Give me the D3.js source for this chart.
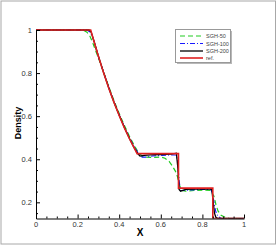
<!DOCTYPE html>
<html><head><meta charset="utf-8">
<script src="https://cdn.jsdelivr.net/npm/d3@7"></script>
<style>body{margin:0;background:#fff}svg{display:block}</style>
</head><body>
<script>
// ---- data ----
const refX  = [0,0.263,0.28,0.3,0.325,0.35,0.375,0.4,0.425,0.45,0.47,0.486,0.685,0.685,0.85,0.85,1];
const refY  = [1,1,0.943,0.878,0.801,0.730,0.664,0.603,0.546,0.494,0.456,0.426,0.426,0.266,0.266,0.125,0.125];
const s200X = [0,0.255,0.265,0.28,0.3,0.325,0.35,0.375,0.4,0.425,0.45,0.47,0.49,0.5,0.52,0.55,0.6,0.65,0.675,0.682,0.688,0.695,0.72,0.8,0.845,0.852,0.858,0.865,0.875,1];
const s200Y = [1,1,0.99,0.945,0.878,0.802,0.731,0.665,0.604,0.547,0.495,0.457,0.425,0.415,0.418,0.42,0.422,0.424,0.428,0.36,0.26,0.252,0.26,0.263,0.262,0.2,0.15,0.13,0.125,0.125];
const s100X = [0,0.245,0.26,0.275,0.29,0.3,0.325,0.35,0.375,0.4,0.425,0.45,0.47,0.49,0.51,0.53,0.56,0.6,0.65,0.67,0.68,0.688,0.695,0.705,0.75,0.8,0.84,0.85,0.857,0.865,0.875,0.89,1];
const s100Y = [1,1,0.99,0.96,0.91,0.877,0.803,0.733,0.667,0.606,0.55,0.498,0.462,0.43,0.41,0.41,0.415,0.418,0.42,0.42,0.40,0.30,0.255,0.255,0.258,0.26,0.26,0.24,0.19,0.155,0.135,0.125,0.125];
const s50X  = [0,0.225,0.245,0.26,0.275,0.29,0.3,0.325,0.35,0.375,0.4,0.425,0.45,0.47,0.49,0.51,0.53,0.56,0.6,0.62,0.64,0.655,0.67,0.68,0.69,0.7,0.72,0.76,0.8,0.84,0.855,0.865,0.875,0.89,0.91,0.93,1];
const s50Y  = [1,1,0.99,0.97,0.935,0.895,0.87,0.805,0.737,0.672,0.612,0.557,0.505,0.468,0.435,0.415,0.41,0.408,0.41,0.405,0.39,0.37,0.345,0.32,0.28,0.255,0.252,0.255,0.257,0.255,0.23,0.19,0.16,0.14,0.13,0.125,0.125];
const xTicks = [0,0.2,0.4,0.6,0.8,1];
const yTicks = [0.2,0.4,0.6,0.8,1];
const xTickLabels = ["0","0.2","0.4","0.6","0.8","1"];
const yTickLabels = ["0.2","0.4","0.6","0.8","1"];
const seriesNames = ["SGH-50","SGH-100","SGH-200","ref."];

const W=277,H=246;
const svg=d3.select("body").append("svg").attr("width",W).attr("height",H);
svg.append("rect").attr("x",1).attr("y",1).attr("width",274.5).attr("height",243)
  .attr("fill","#fff").attr("stroke","#a8a8a8").attr("stroke-width",1);

const x=d3.scaleLinear().domain([0,1]).range([36,244]);
const y=d3.scaleLinear().domain([0.125,1]).range([218.5,30]);

const font="Arial, 'Liberation Sans', sans-serif";

svg.append("clipPath").attr("id","clip").append("rect")
  .attr("x",x(0)).attr("y",y(1)-2).attr("width",x(1)-x(0)).attr("height",y(0.125)-y(1)+2);

const series=[
  {xs:s50X, ys:s50Y, color:"#22cc22", w:1.2, dash:"5,3"},
  {xs:s100X,ys:s100Y,color:"#1a1aff", w:1.1, dash:"5,2,1,2"},
  {xs:s200X,ys:s200Y,color:"#000000", w:1.3, dash:null},
  {xs:refX, ys:refY, color:"#e02020", w:1.6, dash:null}
];
const line=d3.line().x(d=>x(d[0])).y(d=>y(d[1]));
const g=svg.append("g").attr("clip-path","url(#clip)");
series.forEach(s=>{
  g.append("path").datum(s.xs.map((v,i)=>[v,s.ys[i]]))
   .attr("d",line).attr("fill","none").attr("stroke",s.color)
   .attr("stroke-width",s.w).attr("stroke-dasharray",s.dash);
});

// axes
const xAxis=d3.axisBottom(x).tickValues(d3.range(0,1.0001,0.05)).tickSizeInner(-2).tickSizeOuter(0).tickFormat("");
const gx=svg.append("g").attr("transform",`translate(0,${y(0.125)})`).call(xAxis);
gx.selectAll(".tick line").attr("y2",d=>{const m=Math.abs(d*5-Math.round(d*5))<1e-6;return m?-4:-2;});
const yAxis=d3.axisLeft(y).tickValues(d3.range(0.15,1.0001,0.05)).tickSizeInner(-2).tickSizeOuter(0).tickFormat("");
const gy=svg.append("g").attr("transform",`translate(${x(0)},0)`).call(yAxis);
gy.selectAll(".tick line").attr("x2",d=>{const m=Math.abs(d*5-Math.round(d*5))<1e-6;return m?4:2;});
[gx,gy].forEach(a=>{a.selectAll("path,line").attr("stroke","#000").attr("stroke-width",1);});

svg.selectAll(".xl").data(xTicks).enter().append("text")
  .attr("x",d=>x(d)).attr("y",226.5).attr("text-anchor","middle")
  .attr("font-family",font).attr("font-size",7.5).attr("fill","#333")
  .text((d,i)=>xTickLabels[i]);
svg.selectAll(".yl").data(yTicks).enter().append("text")
  .attr("x",32).attr("y",d=>y(d)+2.6).attr("text-anchor","end")
  .attr("font-family",font).attr("font-size",7.5).attr("fill","#333")
  .text((d,i)=>yTickLabels[i]);

svg.append("text").attr("x",140).attr("y",235.5).attr("text-anchor","middle")
  .attr("font-family",font).attr("font-size",10).attr("font-weight","bold").text("X");
svg.append("text").attr("transform","translate(21,123) rotate(-90)").attr("text-anchor","middle")
  .attr("font-family",font).attr("font-size",9).attr("font-weight","bold").text("Density");

// legend
const lg=svg.append("g");
lg.append("rect").attr("x",177).attr("y",31).attr("width",55).attr("height",33).attr("fill","#b8b8b8");
lg.append("rect").attr("x",175.5).attr("y",29.5).attr("width",55).attr("height",33)
  .attr("fill","#fff").attr("stroke","#999").attr("stroke-width",1);
const ly=[36,43.5,51,58];
series.forEach((s,i)=>{
  lg.append("line").attr("x1",180).attr("x2",203).attr("y1",ly[i]).attr("y2",ly[i])
    .attr("stroke",s.color).attr("stroke-width",s.w).attr("stroke-dasharray",s.dash);
  lg.append("text").attr("x",206).attr("y",ly[i]+2).attr("font-family",font)
    .attr("font-size",5.5).attr("fill","#444").text(seriesNames[i]);
});
</script>
</body></html>
